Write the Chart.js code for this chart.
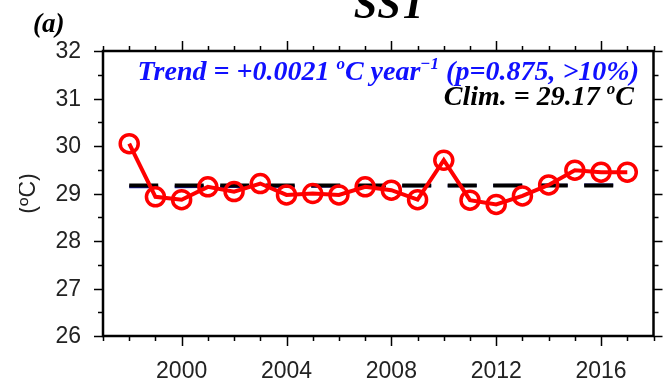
<!DOCTYPE html>
<html>
<head>
<meta charset="utf-8">
<script src="https://cdn.jsdelivr.net/npm/chart.js@4/dist/chart.umd.min.js"></script>
<style>
    html, body { margin: 0; padding: 0; background: #fff; }
    #chartSST { display: block; }
</style>
</head>
<body>
<canvas id="chartSST" width="666" height="391"></canvas>
<script>
const years = [1998, 1999, 2000, 2001, 2002, 2003, 2004, 2005, 2006, 2007,
    2008, 2009, 2010, 2011, 2012, 2013, 2014, 2015, 2016, 2017];
const sstValues = [30.05, 28.93, 28.87, 29.14, 29.04, 29.21, 28.97, 29.00, 28.97, 29.14,
    29.07, 28.87, 29.70, 28.86, 28.77, 28.95, 29.18, 29.49, 29.45, 29.45];
const refYears = [1998, 2017];
const climValues = [29.17, 29.17];
const trendValues = [29.14, 29.18];
const xTickLabels = [2000, 2004, 2008, 2012, 2016];
const yTickLabels = [26, 27, 28, 29, 30, 31, 32];

const toPoints = (xs, ys) => xs.map((x, i) => ({ x: x, y: ys[i] }));

// draws a line of text with superscript pieces, right aligned at xRight
function drawRich(ctx, parts, xRight, baseline, color) {
    const mainFont = 'italic bold 28px "Liberation Serif"';
    const supFont = 'italic bold 17px "Liberation Serif"';
    let total = 0;
    parts.forEach(p => {
        ctx.font = p.sup ? supFont : mainFont;
        total += ctx.measureText(p.t).width;
    });
    let x = xRight - total;
    ctx.fillStyle = color;
    ctx.textAlign = 'left';
    ctx.textBaseline = 'alphabetic';
    parts.forEach(p => {
        ctx.font = p.sup ? supFont : mainFont;
        ctx.fillText(p.t, x, p.sup ? baseline - 11 : baseline);
        x += ctx.measureText(p.t).width;
    });
}

const axesPlugin = {
    id: 'axesPlugin',
    afterDraw(chart) {
        const ctx = chart.ctx;
        const area = chart.chartArea;
        const xs = chart.scales.x;
        const ys = chart.scales.y;
        ctx.save();
        ctx.strokeStyle = '#000';
        ctx.lineWidth = 1.5;

        // x ticks, every year, bottom and top
        for (let yr = xs.min; yr <= xs.max; yr++) {
            const px = Math.round(xs.getPixelForValue(yr)) + 0.5;
            const len = xTickLabels.includes(yr) ? 10 : 5;
            ctx.beginPath();
            ctx.moveTo(px, area.bottom);
            ctx.lineTo(px, area.bottom + len);
            ctx.moveTo(px, area.top);
            ctx.lineTo(px, area.top - len);
            ctx.stroke();
        }
        // y ticks, every half degree, left and right
        for (let v = ys.min; v <= ys.max; v += 0.5) {
            const py = Math.round(ys.getPixelForValue(v)) + 0.5;
            const len = Number.isInteger(v) ? 9 : 5;
            ctx.beginPath();
            ctx.moveTo(area.left, py);
            ctx.lineTo(area.left - len, py);
            ctx.moveTo(area.right, py);
            ctx.lineTo(area.right + len, py);
            ctx.stroke();
        }
        ctx.lineWidth = 2.5;
        ctx.strokeRect(area.left, area.top, area.right - area.left, area.bottom - area.top);

        // tick labels
        ctx.fillStyle = '#222';
        ctx.font = '23px "Liberation Sans"';
        ctx.textAlign = 'center';
        ctx.textBaseline = 'middle';
        xTickLabels.forEach(yr => {
            ctx.fillText(String(yr), xs.getPixelForValue(yr), area.bottom + 36);
        });
        ctx.textAlign = 'right';
        yTickLabels.forEach(v => {
            ctx.fillText(String(v), area.left - 22, ys.getPixelForValue(v) + 1);
        });

        // y axis title, cut at the left edge like the source figure
        ctx.save();
        ctx.beginPath();
        ctx.rect(19, 0, 100, 391);
        ctx.clip();
        ctx.translate(35, (area.top + area.bottom) / 2);
        ctx.rotate(-Math.PI / 2);
        ctx.textAlign = 'center';
        ctx.textBaseline = 'alphabetic';
        ctx.font = '23px "Liberation Sans"';
        ctx.fillText('(\u00baC)', 0, 0);
        ctx.restore();

        // titles
        ctx.fillStyle = '#000';
        ctx.textAlign = 'center';
        ctx.textBaseline = 'alphabetic';
        ctx.font = 'italic bold 42px "Liberation Serif"';
        ctx.fillText('SST', 390, 18);
        ctx.textAlign = 'left';
        ctx.font = 'italic bold 27px "Liberation Serif"';
        ctx.fillText('(a)', 33, 32);

        drawRich(ctx, [
            { t: 'Trend = +0.0021 ' },
            { t: 'o', sup: true },
            { t: 'C year' },
            { t: '\u22121', sup: true },
            { t: ' (p=0.875, >10%)' }
        ], 639, 80, '#1010ff');
        drawRich(ctx, [
            { t: 'Clim. = 29.17 ' },
            { t: 'o', sup: true },
            { t: 'C' }
        ], 634, 105, '#000');

        ctx.restore();
    }
};

new Chart(document.getElementById('chartSST'), {
    type: 'line',
    data: {
        datasets: [
            {
                data: toPoints(years, sstValues),
                borderColor: '#ff0000',
                borderWidth: 4,
                pointRadius: 9,
                pointBorderWidth: 3.5,
                pointBorderColor: '#ff0000',
                pointBackgroundColor: 'rgba(0, 0, 0, 0)',
                tension: 0,
                order: 0
            },
            {
                data: toPoints(refYears, climValues),
                borderColor: '#000',
                borderWidth: 4,
                borderDash: [29, 16.5],
                pointRadius: 0,
                order: 1
            },
            {
                data: toPoints(refYears, trendValues),
                borderColor: '#1a1aa8',
                borderWidth: 3,
                borderDash: [29, 16.5],
                pointRadius: 0,
                order: 2
            }
        ]
    },
    options: {
        responsive: false,
        animation: false,
        devicePixelRatio: 1,
        layout: {
            padding: { left: 103, right: 3, top: 51, bottom: 55 }
        },
        plugins: {
            legend: { display: false },
            tooltip: { enabled: false }
        },
        scales: {
            x: { type: 'linear', min: 1997, max: 2018, display: false },
            y: { min: 26, max: 32, display: false }
        }
    },
    plugins: [axesPlugin]
});
</script>
</body>
</html>
